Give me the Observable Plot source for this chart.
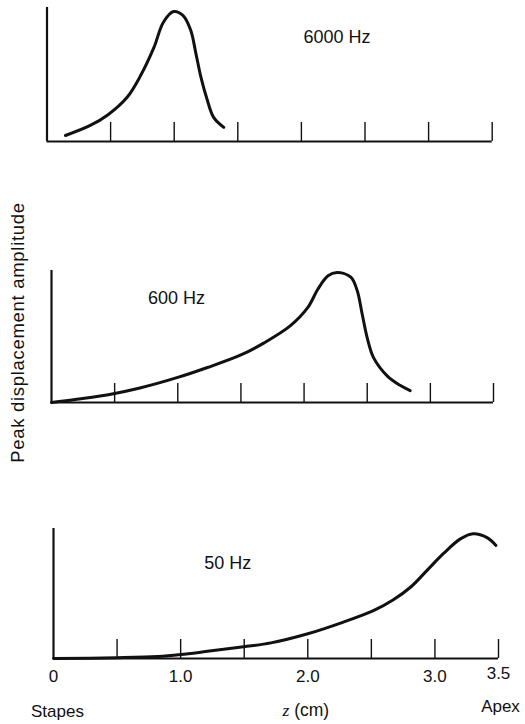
<!DOCTYPE html>
<html>
<head>
<meta charset="utf-8">
<script src="https://cdn.jsdelivr.net/npm/d3@7"></script>
<script src="https://cdn.jsdelivr.net/npm/@observablehq/plot@0.6"></script>
<style>
  html, body { margin: 0; padding: 0; background: #fff; }
  #figure { position: relative; width: 525px; height: 724px; overflow: hidden; background: #fff; }
  #figure > div { position: absolute; left: 0; }
  svg { overflow: visible; }
</style>
</head>
<body>
<div id="figure">
  <div id="p6000" style="top:0px"></div>
  <div id="p600" style="top:260px"></div>
  <div id="p50" style="top:515px"></div>
</div>
<script>
// Distance along the basilar membrane from the stapes (cm)
const xTicks = [0.5, 1.0, 1.5, 2.0, 2.5, 3.0, 3.5];
const xTickLabels = [0, 1.0, 2.0, 3.0];
const xEndLabel = [3.5];
const stapesLabel = [{z: 0, text: "Stapes"}];
const apexLabel = [{z: 3.5, text: "Apex"}];
const xTitle = "z (cm)";
const yTitle = "Peak displacement amplitude";

// Peak displacement envelopes (relative amplitude) at three stimulus frequencies
const env6000 = [
  {z: 0.145, a: 0.045}, {z: 0.34, a: 0.12}, {z: 0.48, a: 0.20}, {z: 0.63, a: 0.33},
  {z: 0.735, a: 0.49}, {z: 0.84, a: 0.70}, {z: 0.915, a: 0.89}, {z: 0.995, a: 0.97},
  {z: 1.07, a: 0.94}, {z: 1.13, a: 0.83}, {z: 1.17, a: 0.66}, {z: 1.21, a: 0.48},
  {z: 1.26, a: 0.31}, {z: 1.31, a: 0.18}, {z: 1.39, a: 0.105}
];
const env600 = [
  {z: 0, a: 0}, {z: 0.2, a: 0.025}, {z: 0.48, a: 0.065}, {z: 0.70, a: 0.11},
  {z: 1.0, a: 0.19}, {z: 1.235, a: 0.265}, {z: 1.50, a: 0.36}, {z: 1.68, a: 0.45},
  {z: 1.89, a: 0.58}, {z: 2.03, a: 0.72}, {z: 2.11, a: 0.86}, {z: 2.19, a: 0.96},
  {z: 2.26, a: 0.985}, {z: 2.37, a: 0.95}, {z: 2.42, a: 0.85}, {z: 2.46, a: 0.67},
  {z: 2.50, a: 0.49}, {z: 2.55, a: 0.34}, {z: 2.66, a: 0.20}, {z: 2.76, a: 0.13},
  {z: 2.84, a: 0.09}
];
const env50 = [
  {z: 0, a: 0}, {z: 0.5, a: 0.006}, {z: 0.82, a: 0.015}, {z: 1.0, a: 0.03},
  {z: 1.21, a: 0.055}, {z: 1.495, a: 0.09}, {z: 1.71, a: 0.12}, {z: 2.0, a: 0.19},
  {z: 2.28, a: 0.28}, {z: 2.52, a: 0.37}, {z: 2.67, a: 0.45}, {z: 2.81, a: 0.55},
  {z: 2.94, a: 0.68}, {z: 3.07, a: 0.81}, {z: 3.20, a: 0.92}, {z: 3.30, a: 0.96},
  {z: 3.41, a: 0.93}, {z: 3.48, a: 0.87}
];
const freqLabels = ["6000 Hz", "600 Hz", "50 Hz"];

const FONT = "'Liberation Sans', Arial, Helvetica, sans-serif";
const INK = "#111";
const TICK_LEN = 19;

function panel({data, label, labelAt, height, margins, extra = []}) {
  const [mt, mr, mb, ml] = margins;
  const frameH = height - mt - mb;
  return Plot.plot({
    width: 525,
    height,
    marginTop: mt, marginRight: mr, marginBottom: mb, marginLeft: ml,
    style: {fontFamily: FONT, color: INK, background: "transparent", overflow: "visible"},
    x: {domain: [0, 3.5], axis: null},
    y: {domain: [0, 1], axis: null},
    marks: [
      // upward tick marks along the distance axis
      Plot.tickX(xTicks, {x: d => d, stroke: INK, strokeWidth: 1.4, insetTop: frameH - TICK_LEN}),
      Plot.ruleY([0], {stroke: INK, strokeWidth: 2.2}),
      Plot.ruleX([0], {stroke: INK, strokeWidth: 2.2}),
      Plot.line(data, {x: "z", y: "a", curve: "catmull-rom", stroke: INK, strokeWidth: 3, strokeLinecap: "round"}),
      Plot.text([label], {x: labelAt[0], y: labelAt[1], fontSize: 18, fill: INK}),
      ...extra
    ]
  });
}

document.getElementById("p6000").append(panel({
  data: env6000, label: freqLabels[0], labelAt: [2.28, 0.78],
  height: 150, margins: [7, 33.3, 9, 46.5]
}));

const p600 = panel({
  data: env600, label: freqLabels[1], labelAt: [0.99, 0.79],
  height: 150, margins: [10, 32, 8, 51],
  extra: [
    Plot.text([yTitle], {frameAnchor: "left", textAnchor: "middle", lineAnchor: "middle", dx: -33, dy: -4, rotate: -90, fontSize: 18.5, fill: INK})
  ]
});
p600.querySelectorAll("text").forEach(t => { if (t.textContent === yTitle) t.setAttribute("letter-spacing", "0.7"); });
document.getElementById("p600").append(p600);

const p50 = panel({
  data: env50, label: freqLabels[2], labelAt: [1.37, 0.73],
  height: 209, margins: [13, 27, 66, 53],
  extra: [
    Plot.text(xTickLabels, {x: d => d, text: d => d === 0 ? "0" : d.toFixed(1), frameAnchor: "bottom", lineAnchor: "middle", dy: 18, fontSize: 17, fill: INK}),
    Plot.text(xEndLabel, {x: d => d, text: d => d.toFixed(1), frameAnchor: "bottom", lineAnchor: "middle", dy: 15, dx: 0, fontSize: 17, fill: INK}),
    Plot.text(stapesLabel, {x: "z", text: "text", frameAnchor: "bottom", lineAnchor: "middle", dy: 53, dx: 4, fontSize: 17, fill: INK}),
    Plot.text(apexLabel, {x: "z", text: "text", frameAnchor: "bottom", lineAnchor: "middle", dy: 48, dx: 2, fontSize: 17, fill: INK}),
    Plot.text([xTitle], {x: 2.0, frameAnchor: "bottom", lineAnchor: "middle", dy: 52, dx: -2, fontSize: 17.5, fill: INK})
  ]
});
// set the distance variable z in italic
for (const t of p50.querySelectorAll("text")) {
  if (t.textContent === xTitle) {
    t.textContent = "";
    const zi = document.createElementNS("http://www.w3.org/2000/svg", "tspan");
    zi.setAttribute("font-style", "italic");
    zi.setAttribute("font-family", "'Liberation Serif', serif");
    zi.textContent = "z";
    t.append(zi, " (cm)");
  }
}
document.getElementById("p50").append(p50);
</script>
</body>
</html>
